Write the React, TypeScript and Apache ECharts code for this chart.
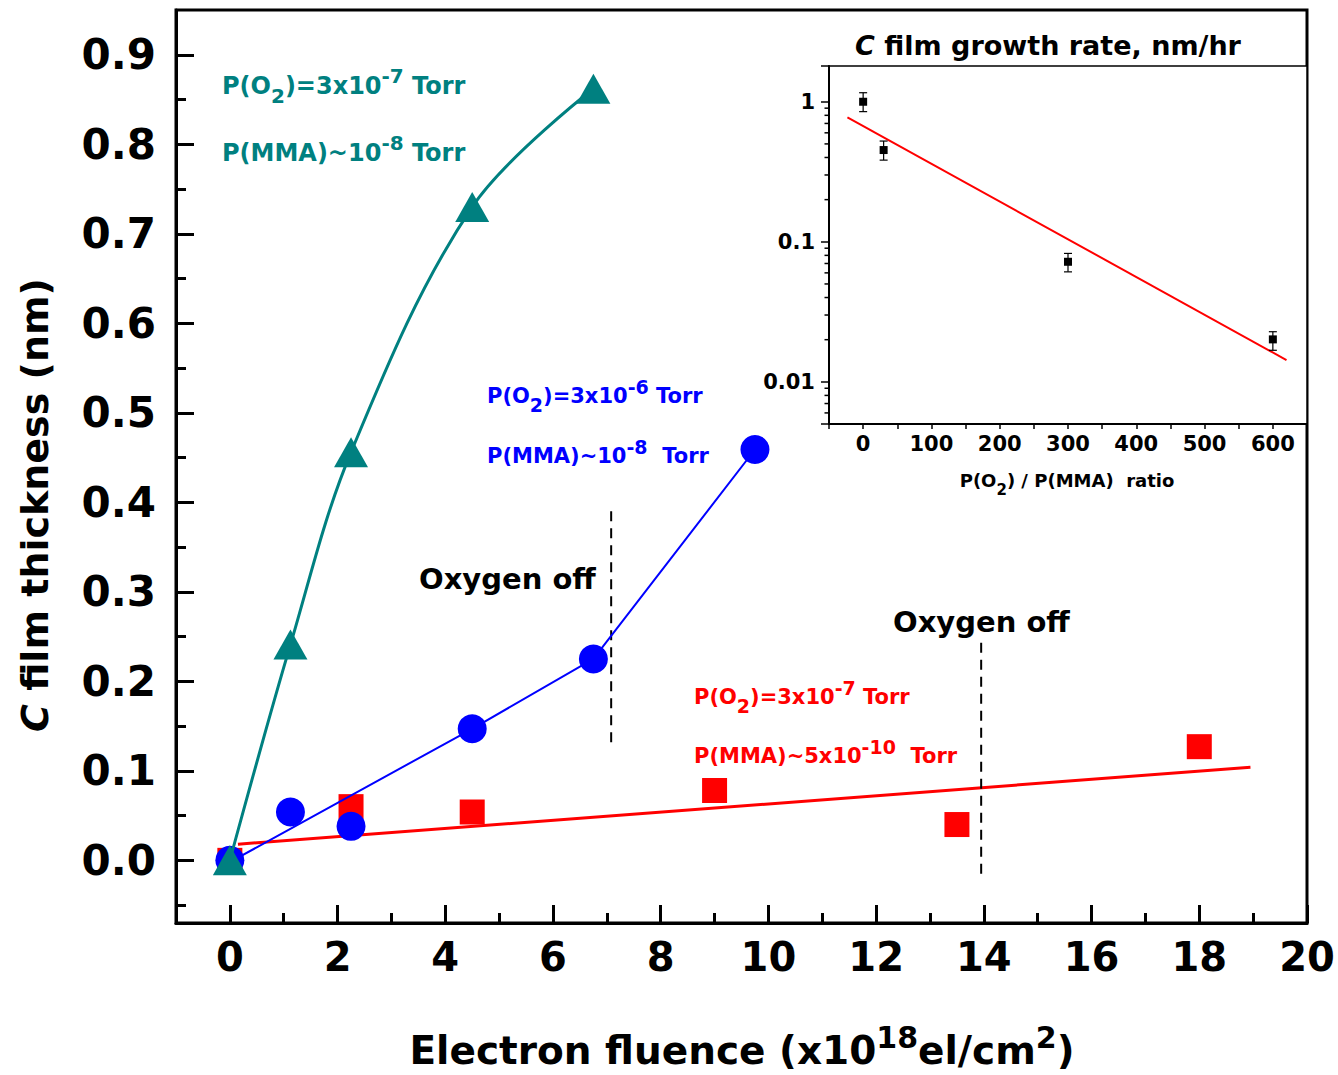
import React, { useEffect, useRef } from 'react';
import * as echarts from 'echarts';

const FONT = '"DejaVu Sans", "Noto Sans", sans-serif';

// ---------- main chart data ----------
const tealX = [0, 1.125, 2.25, 4.5, 6.75];
const tealY = [0.0, 0.241, 0.456, 0.73, 0.862];

const blueX = [0, 1.125, 2.25, 4.5, 6.75, 9.75];
const blueY = [0.0, 0.054, 0.038, 0.147, 0.225, 0.459];
const blueLineX = [0, 4.5, 6.75, 9.75];
const blueLineY = [-0.002, 0.147, 0.225, 0.459];

const redX = [0, 2.25, 4.5, 9.0, 13.5, 18.0];
const redY = [0.0, 0.06, 0.054, 0.078, 0.04, 0.127];
const redFitX = [0.15, 18.95];
const redFitY = [0.018, 0.104];

const offLine1X = [7.08, 7.08];
const offLine1Y = [0.39, 0.127];
const offLine2X = [13.95, 13.95];
const offLine2Y = [0.243, -0.018];

const xMajorTicks = [0, 2, 4, 6, 8, 10, 12, 14, 16, 18, 20];
const xMinorTicks = [1, 3, 5, 7, 9, 11, 13, 15, 17, 19];
const yMajorTicks = [0, 0.1, 0.2, 0.3, 0.4, 0.5, 0.6, 0.7, 0.8, 0.9];
const yMinorTicks = [-0.05, 0.05, 0.15, 0.25, 0.35, 0.45, 0.55, 0.65, 0.75, 0.85];

// ---------- inset data ----------
const ratioX = [0, 30, 300, 600];
const rateY = [1.0, 0.452, 0.072, 0.0201];
const rateLow = [0.85, 0.383, 0.061, 0.0168];
const rateHigh = [1.16, 0.524, 0.0826, 0.0228];
const rateFitX = [-23, 620];
const rateFitY = [0.774, 0.0143];
const insetLogMinor = [
  0.006, 0.007, 0.008, 0.009,
  0.02, 0.03, 0.04, 0.05, 0.06, 0.07, 0.08, 0.09,
  0.2, 0.3, 0.4, 0.5, 0.6, 0.7, 0.8, 0.9,
];

const zip = (xs: number[], ys: number[]) => xs.map((x, i) => [x, ys[i]]);

function richSet(color: string, size: number, small: number, lh: number, off: number) {
  const base = { fill: color, fontFamily: FONT, fontWeight: 'bold' };
  return {
    n: { ...base, fontSize: size, lineHeight: lh },
    ci: { ...base, fontSize: size, lineHeight: lh, fontStyle: 'italic' },
    sup: { ...base, fontSize: small, lineHeight: lh - 2 * off, verticalAlign: 'top' },
    sub: { ...base, fontSize: small, lineHeight: lh - 2 * off, verticalAlign: 'bottom' },
  };
}

function label(text: string, x: number, y: number, color: string, size: number, small: number, off: number, align = 'left', rotation = 0) {
  const lh = size + 16;
  return {
    type: 'text',
    x,
    y,
    rotation,
    z: 50,
    style: {
      text,
      align,
      verticalAlign: 'middle',
      rich: richSet(color, size, small, lh, off),
    },
  };
}

const TEAL = '#008080';
const BLUE = '#0000ff';
const RED = '#ff0000';

function buildOption() {
  const mainTickLabel = { fontFamily: FONT, fontWeight: 'bold', color: '#000' };
  return {
    animation: false,
    backgroundColor: '#fff',
    grid: [
      { left: 176, top: 10, right: 31, bottom: 152, show: true, borderColor: '#000', borderWidth: 3, containLabel: false },
      { left: 829, top: 66, width: 478, height: 358, show: true, borderColor: '#000', borderWidth: 1.5, backgroundColor: '#fff', containLabel: false, z: 5 },
    ],
    xAxis: [
      {
        gridIndex: 0, type: 'value', min: -1, max: 20, position: 'bottom',
        axisLine: { show: true, onZero: false, lineStyle: { color: '#000', width: 3 } },
        axisTick: { show: true, inside: true, length: 18, lineStyle: { color: '#000', width: 3 }, customValues: xMajorTicks },
        axisLabel: { ...mainTickLabel, fontSize: 40, margin: 14, customValues: xMajorTicks },
        splitLine: { show: false },
      },
      {
        gridIndex: 0, type: 'value', min: -1, max: 20, position: 'bottom',
        axisLine: { show: false, onZero: false },
        axisTick: { show: true, inside: true, length: 10, lineStyle: { color: '#000', width: 3 }, customValues: xMinorTicks },
        axisLabel: { show: false },
        splitLine: { show: false },
      },
      {
        gridIndex: 1, type: 'value', min: -50, max: 650, interval: 50, position: 'bottom',
        axisLine: { show: true, onZero: false, lineStyle: { color: '#000', width: 2 } },
        axisTick: { show: true, inside: false, length: 5, lineStyle: { color: '#000', width: 1.5 } },
        axisLabel: {
          ...mainTickLabel, fontSize: 21, margin: 9,
          formatter: (v: number) => (Math.round(v) % 100 === 0 && v >= 0 ? String(Math.round(v)) : ''),
        },
        splitLine: { show: false },
        z: 6,
      },
    ],
    yAxis: [
      {
        gridIndex: 0, type: 'value', min: -0.07, max: 0.95, position: 'left',
        axisLine: { show: true, onZero: false, lineStyle: { color: '#000', width: 3 } },
        axisTick: { show: true, inside: true, length: 18, lineStyle: { color: '#000', width: 3 }, customValues: yMajorTicks },
        axisLabel: { ...mainTickLabel, fontSize: 42, margin: 20, customValues: yMajorTicks, formatter: (v: number) => v.toFixed(1) },
        splitLine: { show: false },
      },
      {
        gridIndex: 0, type: 'value', min: -0.07, max: 0.95, position: 'left',
        axisLine: { show: false, onZero: false },
        axisTick: { show: true, inside: true, length: 10, lineStyle: { color: '#000', width: 3 }, customValues: yMinorTicks },
        axisLabel: { show: false },
        splitLine: { show: false },
      },
      {
        gridIndex: 1, type: 'log', logBase: 10, min: 0.005, max: 1.8, position: 'left',
        axisLine: { show: true, onZero: false, lineStyle: { color: '#000', width: 2 } },
        axisTick: { show: true, inside: false, length: 8, lineStyle: { color: '#000', width: 1.5 } },
        axisLabel: {
          ...mainTickLabel, fontSize: 21, margin: 14,
          formatter: (v: number) => {
            const e = Math.log10(v);
            const r = Math.round(e);
            if (Math.abs(e - r) > 1e-6) return '';
            return r >= 0 ? String(Math.pow(10, r)) : Math.pow(10, r).toFixed(-r);
          },
        },
        splitLine: { show: false },
        z: 6,
      },
    ],
    series: [
      {
        type: 'scatter', xAxisIndex: 0, yAxisIndex: 0, symbol: 'rect', symbolSize: 25,
        itemStyle: { color: RED, opacity: 1 }, data: zip(redX, redY), z: 2,
      },
      {
        type: 'line', xAxisIndex: 0, yAxisIndex: 0, symbol: 'none', showSymbol: false,
        lineStyle: { color: RED, width: 3 }, data: zip(redFitX, redFitY), z: 3,
      },
      {
        type: 'scatter', xAxisIndex: 0, yAxisIndex: 0, symbol: 'circle', symbolSize: 29,
        itemStyle: { color: BLUE, opacity: 1 }, data: zip(blueX, blueY), z: 4,
      },
      {
        type: 'line', xAxisIndex: 0, yAxisIndex: 0, symbol: 'none', showSymbol: false,
        lineStyle: { color: BLUE, width: 2 }, data: zip(blueLineX, blueLineY), z: 4,
      },
      {
        type: 'line', xAxisIndex: 0, yAxisIndex: 0, symbol: 'none', showSymbol: false, smooth: 0.35,
        lineStyle: { color: TEAL, width: 3 }, data: zip(tealX, tealY), z: 5,
      },
      {
        type: 'scatter', xAxisIndex: 0, yAxisIndex: 0, symbol: 'triangle', symbolSize: [34, 30],
        itemStyle: { color: TEAL, opacity: 1 }, data: zip(tealX, tealY), z: 6,
      },
      {
        type: 'line', xAxisIndex: 0, yAxisIndex: 0, symbol: 'none', showSymbol: false,
        lineStyle: { color: '#000', width: 2, type: [10, 7] }, data: zip(offLine1X, offLine1Y), z: 3,
      },
      {
        type: 'line', xAxisIndex: 0, yAxisIndex: 0, symbol: 'none', showSymbol: false,
        lineStyle: { color: '#000', width: 2, type: [10, 7] }, data: zip(offLine2X, offLine2Y), z: 3,
      },
      // inset
      {
        type: 'line', xAxisIndex: 2, yAxisIndex: 2, symbol: 'none', showSymbol: false,
        lineStyle: { color: RED, width: 2 }, data: zip(rateFitX, rateFitY), z: 10,
      },
      {
        type: 'custom', xAxisIndex: 2, yAxisIndex: 2, z: 11,
        data: ratioX.map((x, i) => [x, rateLow[i], rateHigh[i]]),
        encode: { x: 0, y: [1, 2] },
        renderItem: (params: any, api: any) => {
          const x = api.value(0);
          const lo = api.coord([x, api.value(1)]);
          const hi = api.coord([x, api.value(2)]);
          const w = 4;
          const st = { stroke: '#000', lineWidth: 1.2 };
          return {
            type: 'group',
            children: [
              { type: 'line', shape: { x1: lo[0], y1: lo[1], x2: hi[0], y2: hi[1] }, style: st },
              { type: 'line', shape: { x1: lo[0] - w, y1: lo[1], x2: lo[0] + w, y2: lo[1] }, style: st },
              { type: 'line', shape: { x1: hi[0] - w, y1: hi[1], x2: hi[0] + w, y2: hi[1] }, style: st },
            ],
          };
        },
      },
      {
        type: 'scatter', xAxisIndex: 2, yAxisIndex: 2, symbol: 'rect', symbolSize: 8,
        itemStyle: { color: '#000', opacity: 1 }, data: zip(ratioX, rateY), z: 12,
      },
      {
        type: 'custom', xAxisIndex: 2, yAxisIndex: 2, z: 12, clip: false,
        data: insetLogMinor.map((v) => [-50, v]),
        encode: { x: 0, y: 1 },
        renderItem: (params: any, api: any) => {
          const p = api.coord([api.value(0), api.value(1)]);
          return {
            type: 'line',
            shape: { x1: p[0] - 4.5, y1: p[1], x2: p[0], y2: p[1] },
            style: { stroke: '#000', lineWidth: 1.5 },
          };
        },
      },
    ],
    graphic: [
      label('{n|P(O}{sub|2}{n|)=3x10}{sup|-7}{n| Torr}', 222, 86, TEAL, 24, 20, 13),
      label('{n|P(MMA)~10}{sup|-8}{n| Torr}', 222, 153, TEAL, 24, 20, 15),
      label('{n|P(O}{sub|2}{n|)=3x10}{sup|-6}{n| Torr}', 487, 396, BLUE, 21, 19, 13),
      label('{n|P(MMA)~10}{sup|-8}{n|  Torr}', 487, 456, BLUE, 21, 19, 14),
      label('{n|Oxygen off}', 419, 579, '#000', 29, 20, 10),
      label('{n|Oxygen off}', 893, 622, '#000', 29, 20, 10),
      label('{n|P(O}{sub|2}{n|)=3x10}{sup|-7}{n| Torr}', 694, 697, RED, 21, 19, 13),
      label('{n|P(MMA)~5x10}{sup|-10}{n|  Torr}', 694, 756, RED, 21, 19, 14),
      label('{ci|C}{n| film growth rate, nm/hr}', 1048, 45, '#000', 27, 18, 8, 'center'),
      label('{n|P(O}{sub|2}{n|) / P(MMA)  ratio}', 1067, 480, '#000', 18, 15, 9, 'center'),
      label('{n|Electron fluence (x10}{sup|18}{n|el/cm}{sup|2}{n|)}', 742, 1050, '#000', 39, 30, 17, 'center'),
      label('{ci|C}{n| film thickness (nm)}', 35, 505, '#000', 38, 30, 14, 'center', Math.PI / 2),
    ],
  };
}

export default function App() {
  const ref = useRef<HTMLDivElement>(null);
  useEffect(() => {
    if (!ref.current) return;
    const chart = echarts.init(ref.current, null, { renderer: 'svg' });
    chart.setOption(buildOption() as any);
    return () => chart.dispose();
  }, []);
  return (
    <div
      ref={ref}
      style={{ position: 'absolute', left: 0, top: 0, width: 1338, height: 1075, background: '#fff' }}
    />
  );
}
